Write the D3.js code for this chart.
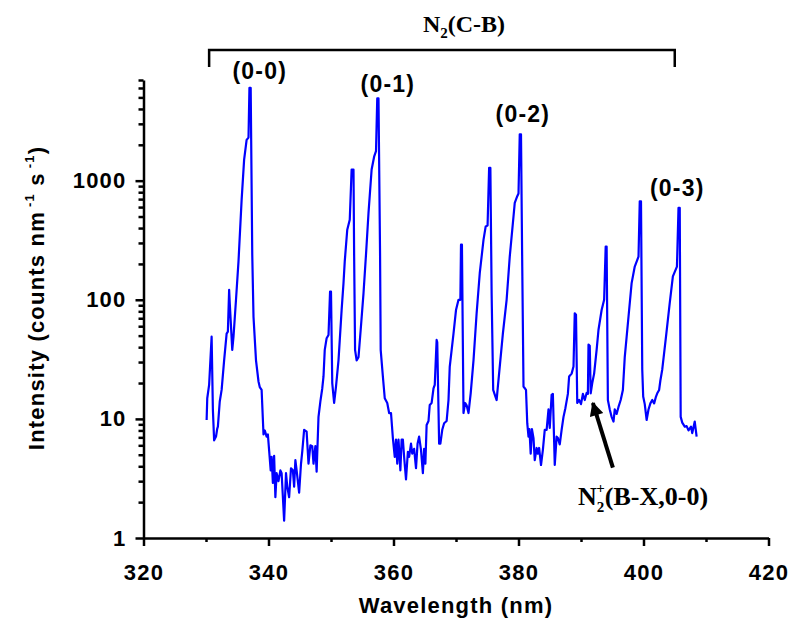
<!DOCTYPE html>
<html>
<head>
<meta charset="utf-8">
<script src="https://cdn.jsdelivr.net/npm/d3@7"></script>
<style>
  body { margin: 0; background: #fff; }
  .axis path, .axis line { stroke: #000; stroke-width: 2.5px; }
  .axis text { font-family: Arial, "Liberation Sans", sans-serif; font-weight: bold; font-size: 22px; letter-spacing: 1.2px; fill: #000; }
  .lbl { font-family: Arial, "Liberation Sans", sans-serif; font-weight: bold; letter-spacing: 1.2px; fill: #000; }
  .serif { font-family: "Times New Roman", "Liberation Serif", serif; font-weight: bold; fill: #000; }
</style>
</head>
<body>
<div id="chart-area"></div>
<script>

var width = 788,
    height = 626;

// spectrum (wavelength in nm, intensity in counts nm-1 s-1)
var wavelength = [
  330.1, 330.2, 330.5, 330.9, 331.1, 331.3, 331.6, 331.8, 331.9, 332.2, 332.5, 332.9, 333.3, 333.5, 333.7, 333.8,
  334.2, 334.4, 334.8, 335.2, 335.7, 336.1, 336.5, 336.8, 336.95, 337.15, 337.4, 337.6, 338.0, 338.4, 338.6, 338.9,
  339.2, 339.4, 339.7, 339.9, 340.35, 340.5, 340.7, 340.9, 341.1, 341.3, 341.6, 341.9, 342.1, 342.5, 342.8, 343.0,
  343.3, 343.6, 343.9, 344.1, 344.3, 344.5, 344.9, 345.2, 345.4, 345.7, 346.1, 346.4, 346.7, 347.0, 347.2, 347.5,
  347.7, 348.0, 348.3, 348.6, 348.8, 349.0, 349.3, 349.6, 349.85, 350.0, 350.2, 350.5, 350.8, 351.2, 351.7, 352.0,
  352.2, 352.6, 353.0, 353.3, 353.6, 353.7, 353.85, 354.1, 354.4, 354.75, 355.2, 355.6, 356.0, 356.5, 356.9, 357.2,
  357.4, 357.6, 357.85, 357.95, 358.3, 358.6, 359.0, 359.3, 359.6, 359.9, 360.2, 360.4, 360.6, 360.8, 361.1, 361.3,
  361.5, 361.7, 362.0, 362.3, 362.5, 362.8, 363.0, 363.3, 363.6, 363.85, 364.1, 364.4, 364.7, 364.9, 365.1, 365.3,
  365.6, 365.8, 366.1, 366.4, 366.6, 366.9, 367.0, 367.3, 367.5, 367.8, 368.1, 368.5, 368.8, 369.0, 369.6, 370.0,
  370.4, 370.7, 370.8, 370.95, 371.2, 371.45, 371.7, 372.0, 372.35, 372.8, 373.3, 373.8, 374.4, 374.75, 375.05, 375.3,
  375.5, 375.7, 375.95, 376.2, 376.5, 376.7, 377.0, 377.5, 378.1, 378.6, 379.2, 379.4, 379.8, 380.0, 380.2, 380.4,
  380.6, 380.8, 381.2, 381.4, 381.6, 381.75, 381.95, 382.15, 382.4, 382.6, 382.9, 383.1, 383.3, 383.6, 383.9, 384.2,
  384.5, 384.8, 385.0, 385.3, 385.5, 385.8, 386.1, 386.3, 386.6, 386.9, 387.2, 387.5, 387.9, 388.1, 388.5, 388.8,
  389.0, 389.2, 389.4, 389.7, 390.0, 390.3, 390.6, 390.9, 391.1, 391.2, 391.4, 391.55, 391.8, 392.1, 392.5, 392.8,
  393.3, 393.7, 393.95, 394.1, 394.3, 394.6, 394.9, 395.2, 395.4, 395.7, 396.0, 396.35, 396.7, 397.0, 397.6, 398.1,
  398.6, 399.2, 399.4, 399.6, 399.8, 399.95, 400.2, 400.5, 400.8, 401.1, 401.4, 401.7, 402.0, 402.2, 402.5, 402.7,
  403.0, 403.6, 404.2, 404.7, 405.35, 405.6, 405.8, 405.95, 406.2, 406.6, 406.9, 407.2, 407.6, 407.8, 408.2, 408.5
];
var intensity = [
  9.8, 14.9, 19.3, 49, 12, 6.6, 7.1, 8.3, 8.6, 14, 17.5, 31, 52, 54, 121, 94,
  38, 49, 100, 210, 690, 1500, 2200, 2300, 6000, 6000, 240, 72, 31, 20.6, 18.5, 17.5,
  7.4, 8, 7.1, 7.4, 3.7, 4.8, 2.9, 4.9, 2.2, 3.5, 3.0, 3.7, 3.5, 1.4, 3.5, 2.7,
  2.2, 3.85, 3.7, 2.7, 4.5, 3.7, 2.4, 4.2, 5.3, 8.1, 7.8, 4.2, 6.0, 5.9, 4.2, 5.9,
  3.6, 10.4, 14, 18, 22.7, 38, 47.5, 50.6, 117, 117, 20, 13.6, 18.7, 31, 82, 138,
  210, 387, 470, 1240, 1240, 240, 38, 31, 33, 56, 113, 240, 535, 1240, 1590, 1770,
  4900, 4900, 240, 38, 22.7, 14.9, 13.6, 11.2, 11.2, 6.9, 4.8, 6.7, 4.2, 6.7, 3.7, 6.7,
  6.7, 4.8, 3.1, 5.3, 4.8, 6.2, 5.1, 5.6, 3.85, 6.2, 7.1, 5.5, 3.5, 5.6, 4.2, 8.9,
  9.6, 13.1, 13.6, 18, 19.3, 46, 44, 6.2, 6.2, 8.1, 9.2, 9.6, 14.4, 27.5, 52, 82,
  100, 100, 290, 290, 11.2, 13.6, 13, 11.2, 16.4, 31, 77, 167, 318, 413, 420, 1280,
  1280, 113, 17.5, 16, 14.4, 18.7, 27.5, 52, 100, 230, 500, 650, 740, 780, 2450, 2450,
  190, 18.7, 17.5, 9.2, 7.1, 8.2, 5.1, 8.2, 6.9, 4.5, 5.7, 5.1, 5.7, 4.1, 5.5, 8.1,
  8.1, 12, 8.4, 15.9, 16.2, 4.1, 7.1, 6.9, 6.1, 8.1, 10.4, 12.3, 16.2, 22.7, 24, 27.5,
  77, 75, 13.6, 14.4, 13.3, 16.2, 14.4, 16.5, 16.2, 42, 41, 16.4, 20, 24, 38, 56,
  82, 100, 280, 280, 14.4, 12, 10.4, 9.5, 12, 11, 12.6, 14.4, 17.5, 33, 72, 138,
  190, 230, 670, 670, 26, 15.4, 13.3, 9.8, 12, 13.5, 14.4, 13.5, 15.4, 16.4, 17.5, 21,
  26, 49, 94, 157, 190, 590, 590, 10.4, 9.3, 8.6, 8.7, 8, 8.6, 7.6, 9.5, 7.1
];

var xTicks = [320, 340, 360, 380, 400, 420];
var xMinorTicks = [330, 350, 370, 390, 410];
var yTicks = [1, 10, 100, 1000];

// band head labels (text, wavelength, intensity level of the label baseline)
var bandLabels = ["(0-0)", "(0-1)", "(0-2)", "(0-3)"];
var bandWl = [338.6, 359.1, 380.7, 405.4];
var bandLevel = [7200, 5560, 3110, 745];

// bracket over the C-B system (wavelength range)
var bracketRange = [330.5, 405.0];

// arrow to the N2+ band (tail, tip)
var arrowFrom = [395.1, 3.9],
    arrowTo = [391.9, 13.6];

var svg = d3.select("#chart-area").append("svg")
    .attr("width", width)
    .attr("height", height);

var x = d3.scaleLinear().domain([320, 420]).range([143.5, 768.5]);
var y = d3.scaleLog().domain([1, 7000]).range([538, 80]);

var data = wavelength.map(function(w, i) { return { wl: w, v: intensity[i] }; });

// AXES
var yMinor = y.ticks().filter(function(d) { return yTicks.indexOf(d) < 0; });

svg.append("g")
    .attr("class", "axis")
    .attr("transform", "translate(0,538)")
    .call(d3.axisBottom(x).tickValues(xMinorTicks).tickSize(4).tickFormat(""))
    .select(".domain").remove();

svg.append("g")
    .attr("class", "axis")
    .attr("transform", "translate(143.5,0)")
    .call(d3.axisLeft(y).tickValues(yMinor).tickSize(5).tickFormat(""))
    .select(".domain").remove();

svg.append("g")
    .attr("class", "axis")
    .attr("transform", "translate(0,538)")
    .call(d3.axisBottom(x).tickValues(xTicks).tickSize(8).tickSizeOuter(0).tickPadding(18).tickFormat(d3.format("d")));

svg.append("g")
    .attr("class", "axis")
    .attr("transform", "translate(143.5,0)")
    .call(d3.axisLeft(y).tickValues(yTicks).tickSize(8).tickSizeOuter(0).tickPadding(9).tickFormat(d3.format("d")));

// SPECTRUM
var line = d3.line()
    .x(function(d) { return x(d.wl); })
    .y(function(d) { return y(d.v); });

svg.append("path")
    .datum(data)
    .attr("d", line)
    .style("fill", "none")
    .style("stroke", "#0000ff")
    .style("stroke-width", 2.2)
    .style("stroke-linejoin", "round");

// AXIS TITLES
svg.append("text")
    .attr("class", "lbl")
    .attr("x", (x.range()[0] + x.range()[1]) / 2)
    .attr("y", 613)
    .attr("text-anchor", "middle")
    .style("font-size", "22px")
    .text("Wavelength (nm)");

var yl = svg.append("text")
    .attr("class", "lbl")
    .attr("transform", "translate(44,298) rotate(-90)")
    .attr("text-anchor", "middle")
    .style("font-size", "22px");
yl.append("tspan").text("Intensity (counts nm");
yl.append("tspan").attr("dx", 4).attr("dy", -10).style("font-size", "13px").text("-1");
yl.append("tspan").attr("dy", 10).text(" s");
yl.append("tspan").attr("dx", 4).attr("dy", -10).style("font-size", "13px").text("-1");
yl.append("tspan").attr("dy", 10).text(")");

// BAND LABELS
svg.selectAll(".band")
    .data(bandLabels)
    .enter()
    .append("text")
    .attr("class", "lbl band")
    .attr("x", function(d, i) { return x(bandWl[i]); })
    .attr("y", function(d, i) { return y(bandLevel[i]); })
    .attr("text-anchor", "middle")
    .style("font-size", "23px")
    .text(function(d) { return d; });

// BRACKET + N2(C-B)
var plotTop = y.range()[1];
svg.append("path")
    .attr("d", "M" + x(bracketRange[0]) + "," + (plotTop - 13) +
               "V" + (plotTop - 30) + "H" + x(bracketRange[1]) + "V" + (plotTop - 13))
    .style("fill", "none")
    .style("stroke", "#000")
    .style("stroke-width", 2.5);

var t = svg.append("text")
    .attr("class", "serif")
    .attr("x", 464)
    .attr("y", plotTop - 48)
    .attr("text-anchor", "middle")
    .style("font-size", "24px");
t.append("tspan").text("N");
t.append("tspan").attr("dy", 6).style("font-size", "15px").text("2");
t.append("tspan").attr("dy", -6).text("(C-B)");

// ARROW + N2+ LABEL
svg.append("defs").append("marker")
    .attr("id", "head")
    .attr("viewBox", "0 0 10 10")
    .attr("refX", 9)
    .attr("refY", 5)
    .attr("markerUnits", "userSpaceOnUse")
    .attr("markerWidth", 20)
    .attr("markerHeight", 14)
    .attr("orient", "auto")
    .append("path")
    .attr("d", "M0,0L10,5L0,10z")
    .style("fill", "#000");

svg.append("line")
    .attr("x1", x(arrowFrom[0]))
    .attr("y1", y(arrowFrom[1]))
    .attr("x2", x(arrowTo[0]))
    .attr("y2", y(arrowTo[1]))
    .style("stroke", "#000")
    .style("stroke-width", 4)
    .attr("marker-end", "url(#head)");

var n = svg.append("text")
    .attr("class", "serif")
    .attr("x", 578)
    .attr("y", 505)
    .style("font-size", "26px");
n.append("tspan").text("N");
n.append("tspan").attr("dy", 7).style("font-size", "15px").text("2");
n.append("tspan").attr("dx", -8).attr("dy", -19).style("font-size", "15px").text("+");
n.append("tspan").attr("dy", 12).text("(B-X,0-0)");

</script>
</body>
</html>
